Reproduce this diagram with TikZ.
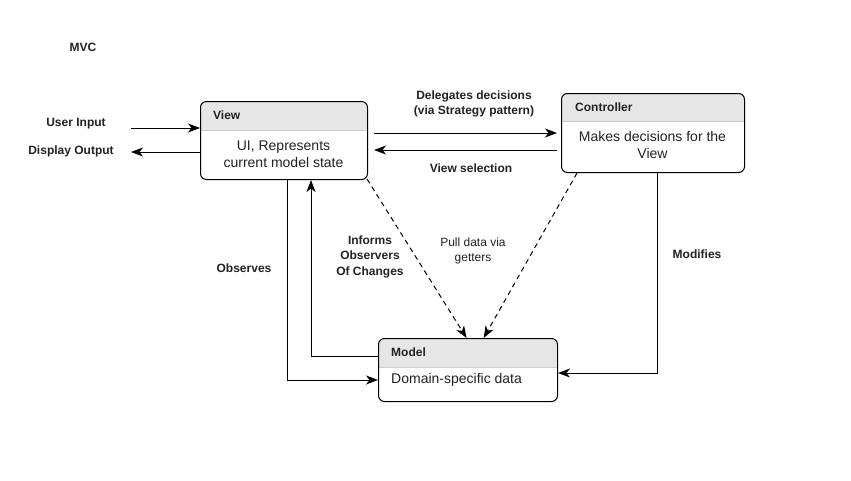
\documentclass[tikz,border=0pt]{standalone}
\usepackage{fontspec}
\setmainfont{Liberation Sans}
\usetikzlibrary{arrows.meta,calc}
\definecolor{hdrgray}{HTML}{E6E6E6}
\definecolor{sepgray}{HTML}{CCCCCC}
\definecolor{txt}{HTML}{222222}
\tikzset{
  box/.style={draw=black, line width=1pt, rounded corners=6pt, inner sep=0pt, anchor=north west},
  ttl/.style={font=\bfseries\fontsize{12}{14}\selectfont, anchor=west, inner sep=0pt, text=txt},
  body/.style={font=\fontsize{14}{17}\selectfont, align=center, inner sep=0pt, text=txt},
  lbl/.style={font=\bfseries\fontsize{12}{15.5}\selectfont, align=center, inner sep=0pt, text=txt},
  plbl/.style={font=\fontsize{12}{15}\selectfont, align=center, inner sep=0pt, text=txt},
  arr/.style={-{Stealth[length=12pt,width=9pt,inset=3.5pt]}, line width=1pt},
  dasharr/.style={arr, dash pattern=on 5pt off 4pt},
}
\begin{document}
\begin{tikzpicture}[x=1pt,y=-1pt]
\useasboundingbox[fill=white] (0,0) rectangle (851,480);
% headers
\begin{scope}
  \clip[rounded corners=6pt] (200,101) rectangle (367,179);
  \fill[hdrgray] (200,101) rectangle (367,130);
\end{scope}
\begin{scope}
  \clip[rounded corners=6pt] (561,93) rectangle (744,172);
  \fill[hdrgray] (561,93) rectangle (744,121);
\end{scope}
\begin{scope}
  \clip[rounded corners=6pt] (378,338) rectangle (557,401);
  \fill[hdrgray] (378,338) rectangle (557,367);
\end{scope}
\draw[sepgray, line width=0.8pt] (200.5,130) -- (366.5,130);
\draw[sepgray, line width=0.8pt] (561.5,121) -- (743.5,121);
\draw[sepgray, line width=0.8pt] (378.5,367) -- (556.5,367);
% boxes
\node[box, minimum width=167pt, minimum height=78pt] (view) at (200,101) {};
\node[box, minimum width=183pt, minimum height=79pt] (ctrl) at (561,93) {};
\node[box, minimum width=179pt, minimum height=63pt] (model) at (378,338) {};
% box texts
\node[ttl] (viewt) at (213,115) {View};
\node[body] (viewb) at (283.5,154) {UI, Represents\\current model state};
\node[ttl] (ctrlt) at (575,107) {Controller};
\node[body] (ctrlb) at (652.5,144.5) {Makes decisions for the\\View};
\node[ttl] (modelt) at (391,352) {Model};
\node[body, anchor=west] (modelb) at (391,380) {Domain-specific data};
% labels
\node[lbl] (mvc) at (83,47) {MVC};
\node[lbl] (uil) at (76,124) {User Input};
\node[lbl] (dol) at (71,151) {Display Output};
\node[lbl] (dell) at (474,104) {Delegates decisions\\(via Strategy pattern)};
\node[lbl] (vsl) at (471,168) {View selection};
\node[lbl] (infl) at (370,256.5) {Informs\\Observers\\Of Changes};
\node[plbl] (pull) at (473,250.5) {Pull data via\\getters};
\node[lbl] (obsl) at (244,268) {Observes};
\node[lbl] (modl) at (697,254) {Modifies};
% connectors
\coordinate (ui) at (131,128);
\coordinate (do) at (131,152);
\draw[arr] (ui) -- (ui -| view.west);
\draw[arr] (do -| view.west) -- (do);
\coordinate (dl) at (374,133);
\draw[arr, shorten >=4pt] (dl) -- (dl -| ctrl.west);
\coordinate (vs) at (374,150);
\draw[arr, shorten <=4pt] (vs -| ctrl.west) -- (vs);
\draw[dasharr] ($(view.south east)+(-1,-1)$) -- ($(model.north west)!0.492!(model.north east)$);
\draw[dasharr] ($(ctrl.south west)!0.087!(ctrl.south east)$) -- ($(model.north west)!0.587!(model.north east)$);
\coordinate (inf) at (311,356);
\draw[arr] (inf -| model.west) -- (inf) -- (inf |- view.south);
\coordinate (obs) at (287,380);
\draw[arr] (obs |- view.south) -- (obs) -- (obs -| model.west);
\coordinate (mod) at (657,373);
\draw[arr] (mod |- ctrl.south) -- (mod) -- (mod -| model.east);
\end{tikzpicture}
\end{document}
